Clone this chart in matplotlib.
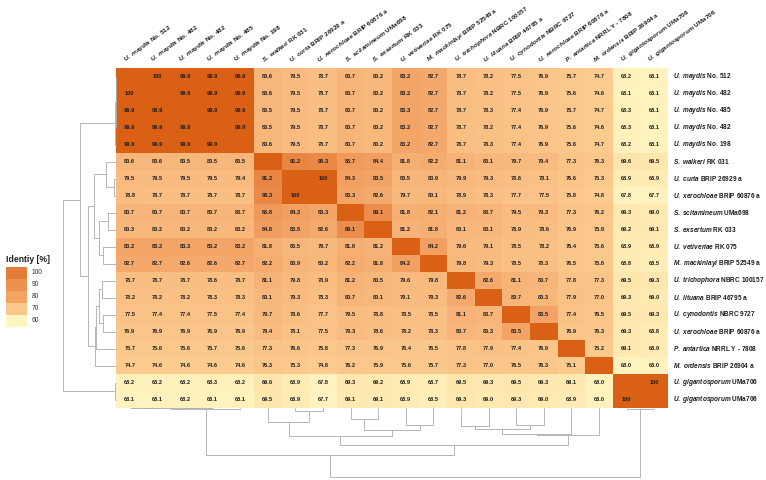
import numpy as np
import matplotlib
matplotlib.use("Agg")
import matplotlib.pyplot as plt
from matplotlib.colors import LinearSegmentedColormap
from matplotlib.patches import Rectangle

plt.rcParams['font.family'] = ['Liberation Sans', 'DejaVu Sans']
plt.rcParams['mathtext.fontset'] = 'custom'
plt.rcParams['mathtext.it'] = 'Liberation Sans:italic:bold'
plt.rcParams['mathtext.rm'] = 'Liberation Sans:bold'

# ---------------- data ----------------
row_species = ["U. maydis", "U. maydis", "U. maydis", "U. maydis", "U. maydis",
               "S. walkeri", "U. curta", "U. xerochloae", "S. scitamineum", "S. exsertum",
               "U. vetiveriae", "M. mackinlayi", "U. trichophora", "U. lituana", "U. cynodontis",
               "U. xerochloae", "P. antartica", "M. ordensis", "U. gigantosporum", "U. gigantosporum"]
row_strain = ["No. 512", "No. 482", "No. 485", "No. 482", "No. 198",
              "RK 031", "BRIP 26929 a", "BRIP 60876 a", "UMa698", "RK 033",
              "RK 075", "BRIP 52549 a", "NBRC 100157", "BRIP 46795 a", "NBRC 9727",
              "BRIP 60876 a", "NRRL Y - 7808", "BRIP 26904 a", "UMa706", "UMa706"]
col_species = list(row_species)
col_strain = ["No. 512", "No. 482", "No. 482", "No. 485", "No. 198",
              "RK 031", "BRIP 26929 a", "BRIP 60876 a", "UMa698", "RK 033",
              "RK 075", "BRIP 52549 a", "NBRC 100157", "BRIP 46795 a", "NBRC 9727",
              "BRIP 60876 a", "NRRL Y - 7808", "BRIP 26904 a", "UMa706", "UMa706"]

N = np.nan
identity = [
    [N, 100, 99.9, 99.9, 99.9, 80.6, 79.5, 78.7, 80.7, 80.2, 83.2, 82.7, 78.7, 78.2, 77.5, 76.9, 75.7, 74.7, 68.2, 68.1],
    [100, N, 99.9, 99.9, 99.9, 80.6, 79.5, 78.7, 80.7, 80.2, 83.2, 82.7, 78.7, 78.2, 77.5, 76.9, 75.6, 74.6, 68.1, 68.1],
    [99.9, 99.9, N, 99.9, 99.9, 80.5, 79.5, 78.7, 80.7, 80.2, 83.3, 82.7, 78.7, 78.3, 77.4, 76.9, 75.7, 74.7, 68.3, 68.1],
    [99.9, 99.9, 99.9, N, 99.9, 80.5, 79.5, 78.7, 80.7, 80.2, 83.2, 82.7, 78.7, 78.2, 77.4, 76.9, 75.6, 74.6, 68.3, 68.1],
    [99.9, 99.9, 99.9, 99.9, N, 80.6, 79.5, 78.7, 80.7, 80.2, 83.2, 82.7, 78.7, 78.3, 77.4, 76.9, 75.6, 74.7, 68.2, 68.1],
    [80.6, 80.6, 80.5, 80.5, 80.5, N, 91.2, 90.3, 85.7, 84.4, 81.8, 82.2, 81.1, 80.1, 79.7, 79.4, 77.3, 76.3, 69.6, 69.5],
    [79.5, 79.5, 79.5, 79.5, 79.4, 91.2, N, 100, 84.3, 83.5, 80.5, 80.9, 79.9, 79.3, 78.6, 78.1, 76.6, 75.3, 68.9, 68.9],
    [78.8, 78.7, 78.7, 78.7, 78.7, 90.3, 100, N, 83.3, 82.6, 79.7, 80.1, 78.9, 78.3, 77.7, 77.5, 75.8, 74.8, 67.8, 67.7],
    [80.7, 80.7, 80.7, 80.7, 80.7, 85.8, 84.3, 83.3, N, 89.1, 81.8, 82.1, 81.2, 80.7, 79.5, 79.3, 77.3, 76.2, 69.3, 69.0],
    [80.3, 80.2, 80.2, 80.2, 80.2, 84.8, 83.5, 82.6, 89.1, N, 81.2, 81.8, 80.1, 80.1, 78.9, 78.6, 76.9, 75.9, 69.2, 69.1],
    [83.2, 83.2, 83.3, 83.2, 83.2, 81.8, 80.5, 79.7, 81.8, 81.2, N, 84.2, 79.6, 79.1, 78.5, 78.2, 76.4, 75.6, 68.9, 68.9],
    [82.7, 82.7, 82.6, 82.6, 82.7, 82.2, 80.9, 80.2, 82.2, 81.8, 84.2, N, 79.8, 79.3, 78.5, 78.3, 76.5, 75.8, 68.8, 68.5],
    [78.7, 78.7, 78.7, 78.6, 78.7, 81.1, 79.8, 78.9, 81.2, 80.5, 79.6, 79.8, N, 82.6, 81.1, 80.7, 77.8, 77.3, 69.5, 69.3],
    [78.2, 78.2, 78.2, 78.3, 78.3, 80.1, 79.3, 78.3, 80.7, 80.1, 79.1, 79.3, 82.6, N, 80.7, 80.3, 77.9, 77.0, 69.3, 69.0],
    [77.5, 77.4, 77.4, 77.5, 77.4, 79.7, 78.6, 77.7, 79.5, 78.8, 78.5, 78.5, 81.1, 80.7, N, 83.5, 77.4, 76.5, 69.5, 69.3],
    [76.9, 76.9, 76.9, 76.9, 76.9, 79.4, 78.1, 77.5, 79.3, 78.6, 78.2, 78.3, 80.7, 80.3, 83.5, N, 76.9, 76.3, 69.3, 68.8],
    [75.7, 75.6, 75.6, 75.7, 75.6, 77.3, 76.6, 75.8, 77.3, 76.9, 76.4, 76.5, 77.8, 77.9, 77.4, 76.9, N, 75.2, 69.1, 68.9],
    [74.7, 74.6, 74.6, 74.6, 74.6, 76.3, 75.3, 74.8, 76.2, 75.9, 75.6, 75.7, 77.3, 77.0, 76.5, 76.3, 75.1, N, 68.0, 68.0],
    [68.2, 68.2, 68.2, 68.3, 68.2, 69.6, 68.9, 67.8, 69.3, 69.2, 68.9, 68.7, 69.5, 69.3, 69.5, 69.3, 69.1, 68.0, N, 100],
    [68.1, 68.1, 68.2, 68.1, 68.1, 69.5, 68.9, 67.7, 69.1, 69.1, 68.9, 68.5, 69.3, 69.0, 69.3, 69.0, 68.9, 68.0, 100, N],
]

# hierarchical clustering (same tree for rows and columns); ids >= 20 are merged clusters
link_left = [0, 2, 20, 22, 6, 5, 8, 10, 26, 25, 12, 14, 30, 32, 33, 29, 23, 18, 36]
link_right = [1, 3, 21, 4, 7, 24, 9, 11, 27, 28, 13, 15, 31, 16, 17, 34, 35, 19, 37]
link_height = [0.3, 0.3, 0.5, 0.8, 3.0, 13.8, 11.0, 17.5, 22.0, 28.4, 18.5, 17.5, 21.8, 26.5, 27.6, 37.5, 48.0, 1.0, 70.0]

legend_ticks = [100, 90, 80, 70, 60]

# ---------------- figure ----------------
W, H = 766, 480
fig = plt.figure(figsize=(W / 100, H / 100), dpi=100)

mat = np.array(identity, dtype=float)
n = mat.shape[0]
color_mat = np.where(np.isnan(mat), 100.0, mat)

cmap = LinearSegmentedColormap.from_list("ident", [
    (0.0, "#FFF9CC"), (8 / 40, "#FFF2BD"), (10 / 40, "#FEE2A6"), (14 / 40, "#FCCD8F"),
    (18 / 40, "#FAC185"), (21 / 40, "#F7B478"), (24 / 40, "#F2A063"), (30 / 40, "#EA8A48"),
    (1.0, "#DA6015")])

hm_l, hm_r, hm_t, hm_b = 116, 668, 68, 408
ax = fig.add_axes([hm_l / W, 1 - hm_b / H, (hm_r - hm_l) / W, (hm_b - hm_t) / H])
ax.pcolormesh(np.arange(n + 1), np.arange(n + 1), color_mat, cmap=cmap, vmin=60, vmax=100,
              edgecolors="none", antialiased=False, shading="flat")
ax.set_xlim(0, n)
ax.set_ylim(n, 0)
ax.axis("off")

for i in range(n):
    for j in range(n):
        v = mat[i, j]
        if np.isnan(v):
            continue
        txt = "100" if v >= 100 else f"{v:.1f}"
        ax.text(j + 0.5, i + 0.5, txt, ha="center", va="center", fontsize=4.1,
                fontweight="bold", color="#1e1e1e")


def lab(sp, st):
    return r"$\mathit{" + sp.replace(" ", r"\ ") + "}$ " + st


for i in range(n):
    ax.annotate(lab(row_species[i], row_strain[i]), xy=(n, i + 0.5), xytext=(5, 0),
                textcoords="offset pixels", ha="left", va="center", fontsize=4.7,
                fontweight="bold", color="#1e1e1e", annotation_clip=False)
for j in range(n):
    ax.annotate(lab(col_species[j], col_strain[j]), xy=(j + 0.5, 0), xytext=(-3, 4),
                textcoords="offset pixels", ha="left", va="bottom", rotation=36,
                rotation_mode="anchor", fontsize=4.6, fontweight="bold", color="#1e1e1e",
                annotation_clip=False)

# ---------------- dendrograms ----------------
pos = {k: k + 0.5 for k in range(n)}
hgt = {k: 0.0 for k in range(n)}
segs = []
for m, (a, b, h) in enumerate(zip(link_left, link_right, link_height)):
    cid = n + m
    segs.append(((pos[a], hgt[a]), (pos[a], h), (pos[b], h), (pos[b], hgt[b])))
    pos[cid] = (pos[a] + pos[b]) / 2
    hgt[cid] = h
root_h = max(link_height)
lcol = "#ababab"
lw = 0.6

axc = fig.add_axes([hm_l / W, 1 - 477 / H, (hm_r - hm_l) / W, 69 / H])
for s in segs:
    xs = [p[0] for p in s]
    ys = [p[1] for p in s]
    axc.plot(xs, ys, color=lcol, lw=lw, clip_on=False, solid_capstyle="butt")
axc.set_xlim(0, n)
axc.set_ylim(root_h, 0)
axc.axis("off")

axr = fig.add_axes([63 / W, 1 - hm_b / H, (hm_l - 63) / W, (hm_b - hm_t) / H])
for s in segs:
    xs = [p[1] for p in s]
    ys = [p[0] for p in s]
    axr.plot(xs, ys, color=lcol, lw=lw, clip_on=False, solid_capstyle="butt")
axr.set_xlim(root_h, 0)
axr.set_ylim(n, 0)
axr.axis("off")

# ---------------- legend ----------------
fig.text(6 / W, 1 - 262 / H, "Identiy [%]", fontsize=6.2, fontweight="bold",
         ha="left", va="baseline", color="#1e1e1e")
leg_colors = ["#E57C37", "#EC9150", "#F1A35F", "#FBC88B", "#FFF5C0"]
box_top, box_h = 267, 12
for k, (t, c) in enumerate(zip(legend_ticks, leg_colors)):
    y0 = box_top + k * box_h
    fig.patches.append(Rectangle((6 / W, 1 - (y0 + box_h) / H), 21 / W, box_h / H,
                                 transform=fig.transFigure, facecolor=c, edgecolor="none"))
    fig.text(32 / W, 1 - (y0 + box_h / 2) / H, str(t), fontsize=4.8, ha="left",
             va="center", color="#333333")

fig.savefig("out.png", dpi=100)
